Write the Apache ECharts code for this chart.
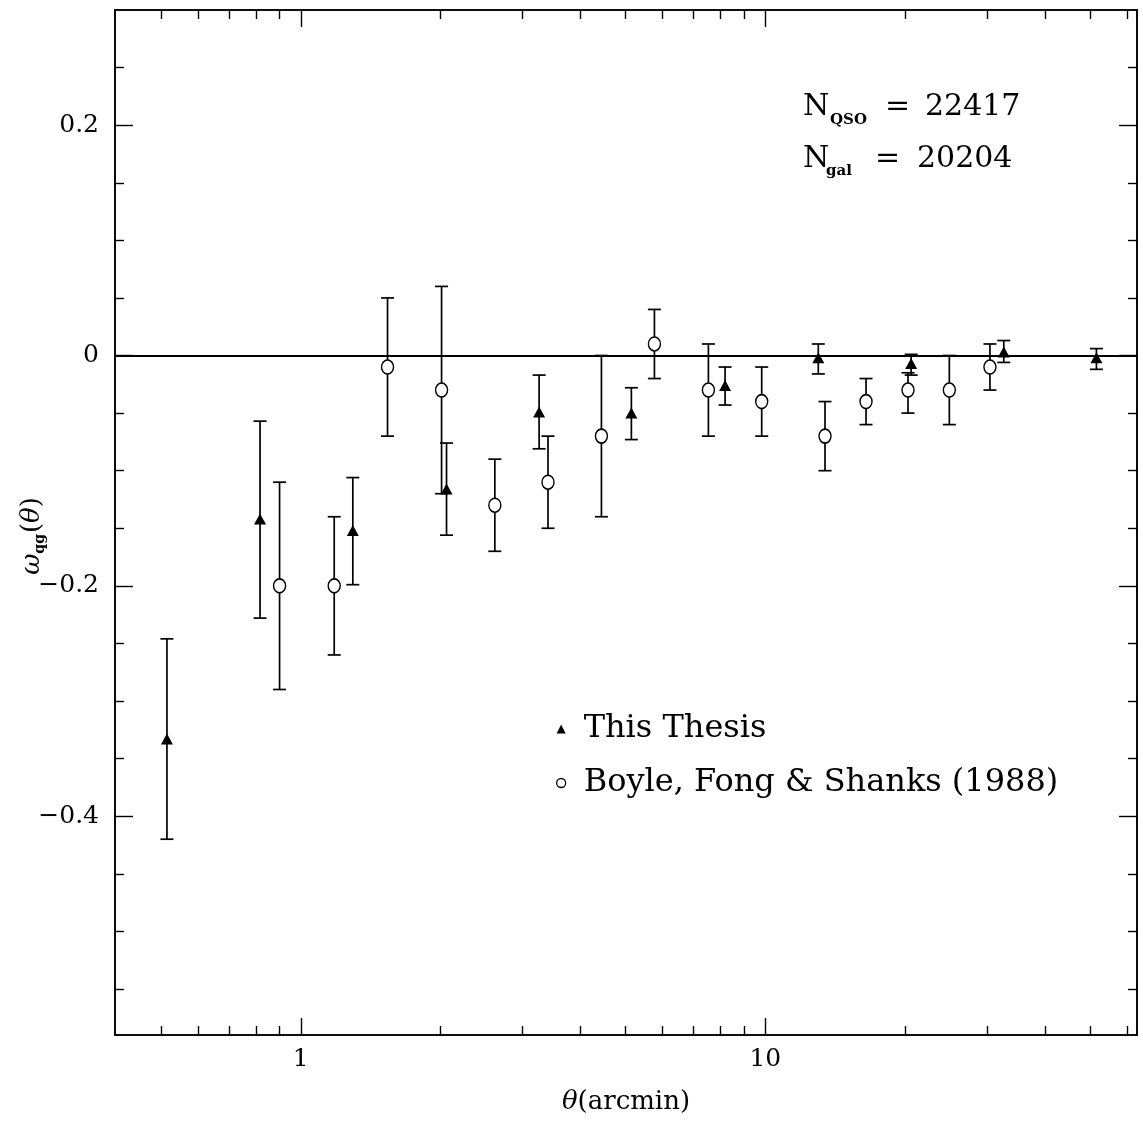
<!DOCTYPE html>
<html>
<head>
<meta charset="utf-8">
<script src="https://cdn.jsdelivr.net/npm/echarts@6/dist/echarts.min.js"></script>
<style>
html,body{margin:0;padding:0;background:#fff;}
#c{width:1143px;height:1123px;}
</style>
</head>
<body>
<div id="c"></div>
<script>
// ---- data ----
const thesisTheta = [0.515, 0.817, 1.294, 2.059, 3.258, 5.147, 8.19, 13.0, 20.6, 32.6, 51.6];
const thesisW     = [-0.333, -0.142, -0.152, -0.116, -0.049, -0.050, -0.026, -0.002, -0.007, 0.003, -0.002];
const thesisLo    = [-0.420, -0.228, -0.199, -0.156, -0.081, -0.073, -0.043, -0.016, -0.017, -0.006, -0.012];
const thesisHi    = [-0.246, -0.057, -0.106, -0.076, -0.017, -0.028, -0.010, 0.010, 0.001, 0.013, 0.006];

const bfsTheta = [0.90, 1.18, 1.537, 2.009, 2.616, 3.405, 4.437, 5.77, 7.54, 9.82, 13.44, 16.47, 20.28, 24.89, 30.44];
const bfsW     = [-0.20, -0.20, -0.01, -0.03, -0.13, -0.11, -0.07, 0.01, -0.03, -0.04, -0.07, -0.04, -0.03, -0.03, -0.01];
const bfsLo    = [-0.29, -0.26, -0.07, -0.12, -0.17, -0.15, -0.14, -0.02, -0.07, -0.07, -0.10, -0.06, -0.05, -0.06, -0.03];
const bfsHi    = [-0.11, -0.14, 0.05, 0.06, -0.09, -0.07, 0.00, 0.04, 0.01, -0.01, -0.04, -0.02, -0.015, 0.00, 0.01];

const xMajorTicks = [1, 10];
const xTickLabels = ['1', '10'];
const xMinorTicks = [0.5, 0.6, 0.7, 0.8, 0.9, 2, 3, 4, 5, 6, 7, 8, 9, 20, 30, 40, 50, 60];
const yMajorTicks = [-0.4, -0.2, 0, 0.2];
const yTickLabels = ['\u22120.4', '\u22120.2', '0', '0.2'];
const yMinorTicks = [-0.55, -0.5, -0.45, -0.35, -0.3, -0.25, -0.15, -0.1, -0.05, 0.05, 0.1, 0.15, 0.25];

const seriesNames = ['This Thesis', 'Boyle, Fong & Shanks (1988)'];
const annotation1 = ['N', 'QSO', '=', '22417'];
const annotation2 = ['N', 'gal', '=', '20204'];

// ---- chart ----
const FONT = '"DejaVu Serif", serif';
const LOGMIN = -0.4, LOGMAX = 1.8;
const YMIN = -0.59, YMAX = 0.3;
const black = '#000';

const chart = echarts.init(document.getElementById('c'), null, {renderer: 'canvas'});

function xTickAxis(position, values, len, labels) {
  return {
    type: 'value', gridIndex: 0, position: position, min: LOGMIN, max: LOGMAX,
    axisLine: {show: true, onZero: false, lineStyle: {color: black, width: 1.6}},
    axisTick: {show: true, inside: true, length: len, customValues: values.map(v => Math.log10(v)),
               lineStyle: {color: black, width: 1.4}},
    axisLabel: labels ? {
      show: true, customValues: values.map(v => Math.log10(v)), margin: 12,
      fontFamily: FONT, fontSize: 25, color: black,
      formatter: function (v) {
        const i = values.findIndex(t => Math.abs(Math.log10(t) - v) < 1e-6);
        return i >= 0 ? labels[i] : '';
      }
    } : {show: false},
    splitLine: {show: false}
  };
}
function yTickAxis(position, values, len, labels) {
  return {
    type: 'value', gridIndex: 0, position: position, min: YMIN, max: YMAX,
    axisLine: {show: true, onZero: false, lineStyle: {color: black, width: 1.6}},
    axisTick: {show: true, inside: true, length: len, customValues: values,
               lineStyle: {color: black, width: 1.4}},
    axisLabel: labels ? {
      show: true, customValues: values, margin: 16,
      fontFamily: FONT, fontSize: 25, color: black,
      formatter: function (v) {
        const i = values.findIndex(t => Math.abs(t - v) < 1e-9);
        return i >= 0 ? labels[i] : '';
      }
    } : {show: false},
    splitLine: {show: false}
  };
}

function renderErr(params, api) {
  const x = api.value(0), lo = api.value(2), hi = api.value(3);
  const pHi = api.coord([x, hi]);
  const pLo = api.coord([x, lo]);
  const cw = 6.5;
  const style = {stroke: black, lineWidth: 1.7, fill: null};
  return {
    type: 'group',
    children: [
      {type: 'line', shape: {x1: pHi[0], y1: pHi[1], x2: pLo[0], y2: pLo[1]}, style: style},
      {type: 'line', shape: {x1: pHi[0] - cw, y1: pHi[1], x2: pHi[0] + cw, y2: pHi[1]}, style: style},
      {type: 'line', shape: {x1: pLo[0] - cw, y1: pLo[1], x2: pLo[0] + cw, y2: pLo[1]}, style: style}
    ]
  };
}

const thesisErrData = thesisTheta.map((t, i) => [t, thesisW[i], thesisLo[i], thesisHi[i]]);
const bfsErrData = bfsTheta.map((t, i) => [t, bfsW[i], bfsLo[i], bfsHi[i]]);

const option = {
  backgroundColor: '#fff',
  animation: false,
  grid: {left: 115, top: 10, right: 6, bottom: 88, containLabel: false},
  xAxis: [
    {type: 'log', logBase: 10, min: Math.pow(10, LOGMIN), max: Math.pow(10, LOGMAX), show: false},
    xTickAxis('bottom', xMajorTicks, 17, xTickLabels),
    xTickAxis('bottom', xMinorTicks, 9, null),
    xTickAxis('top', xMajorTicks, 17, null),
    xTickAxis('top', xMinorTicks, 9, null)
  ],
  yAxis: [
    yTickAxis('left', yMajorTicks, 18, yTickLabels),
    yTickAxis('left', yMinorTicks, 9, null),
    yTickAxis('right', yMajorTicks, 18, null),
    yTickAxis('right', yMinorTicks, 9, null)
  ],
  legend: {
    data: [
      {name: seriesNames[0], icon: 'triangle', itemStyle: {color: black, opacity: 1}},
      {name: seriesNames[1], icon: 'circle', itemStyle: {color: '#fff', borderColor: black, borderWidth: 1.3, opacity: 1}}
    ],
    orient: 'vertical', left: 556, top: 713, padding: 0,
    itemWidth: 9, itemHeight: 9, itemGap: 22, selectedMode: false,
    textStyle: {fontFamily: FONT, fontSize: 32, color: black, lineHeight: 32, padding: [0, 0, 0, 13]}
  },
  series: [
    {
      name: 'err1', type: 'custom', xAxisIndex: 0, yAxisIndex: 0,
      renderItem: renderErr, data: thesisErrData, encode: {x: 0, y: [1, 2, 3]}, z: 2, silent: true
    },
    {
      name: 'err2', type: 'custom', xAxisIndex: 0, yAxisIndex: 0,
      renderItem: renderErr, data: bfsErrData, encode: {x: 0, y: [1, 2, 3]}, z: 2, silent: true
    },
    {
      name: seriesNames[0], type: 'scatter', xAxisIndex: 0, yAxisIndex: 0,
      symbol: 'triangle', symbolSize: [12, 11],
      itemStyle: {color: black, opacity: 1},
      data: thesisTheta.map((t, i) => [t, thesisW[i]]), z: 4,
      markLine: {
        silent: true, symbol: ['none', 'none'], label: {show: false},
        lineStyle: {color: black, width: 2, type: 'solid', opacity: 1},
        data: [{yAxis: 0}]
      }
    },
    {
      name: seriesNames[1], type: 'scatter', xAxisIndex: 0, yAxisIndex: 0,
      symbol: 'circle', symbolSize: [12, 14],
      itemStyle: {color: '#fff', borderColor: black, borderWidth: 1.5, opacity: 1},
      data: bfsTheta.map((t, i) => [t, bfsW[i]]), z: 3
    }
  ],
  graphic: [
    {type: 'text', x: 803, y: 107.5, style: {text: annotation1[0], font: '30px ' + FONT, fill: black, verticalAlign: 'middle'}},
    {type: 'text', x: 830, y: 120, style: {text: annotation1[1], font: 'bold 15px ' + FONT, fill: black, verticalAlign: 'middle'}},
    {type: 'text', x: 885, y: 107.5, style: {text: annotation1[2], font: '30px ' + FONT, fill: black, verticalAlign: 'middle'}},
    {type: 'text', x: 925, y: 107.5, style: {text: annotation1[3], font: '30px ' + FONT, fill: black, verticalAlign: 'middle'}},
    {type: 'text', x: 803, y: 159, style: {text: annotation2[0], font: '30px ' + FONT, fill: black, verticalAlign: 'middle'}},
    {type: 'text', x: 826, y: 171, style: {text: annotation2[1], font: 'bold 15px ' + FONT, fill: black, verticalAlign: 'middle'}},
    {type: 'text', x: 875, y: 159, style: {text: annotation2[2], font: '30px ' + FONT, fill: black, verticalAlign: 'middle'}},
    {type: 'text', x: 917, y: 159, style: {text: annotation2[3], font: '30px ' + FONT, fill: black, verticalAlign: 'middle'}},
    {
      type: 'text', x: 626, y: 1102,
      style: {
        text: '{ti|θ}{t|(arcmin)}', align: 'center', verticalAlign: 'middle', fill: black,
        rich: {
          ti: {fontFamily: FONT, fontSize: 26, fontStyle: 'italic', color: black},
          t: {fontFamily: FONT, fontSize: 26, color: black}
        }
      }
    },
    {
      type: 'text', x: 32, y: 536, rotation: Math.PI / 2,
      style: {
        text: '{w|ω}{s|qg}{t|(}{ti|θ}{t|)}', align: 'center', verticalAlign: 'middle', fill: black,
        rich: {
          w: {fontFamily: FONT, fontSize: 26, fontStyle: 'italic', color: black},
          s: {fontFamily: FONT, fontSize: 14, fontWeight: 'bold', color: black, padding: [16, 1, 0, 0]},
          t: {fontFamily: FONT, fontSize: 26, color: black},
          ti: {fontFamily: FONT, fontSize: 26, fontStyle: 'italic', color: black}
        }
      }
    }
  ]
};
chart.setOption(option);
</script>
</body>
</html>
